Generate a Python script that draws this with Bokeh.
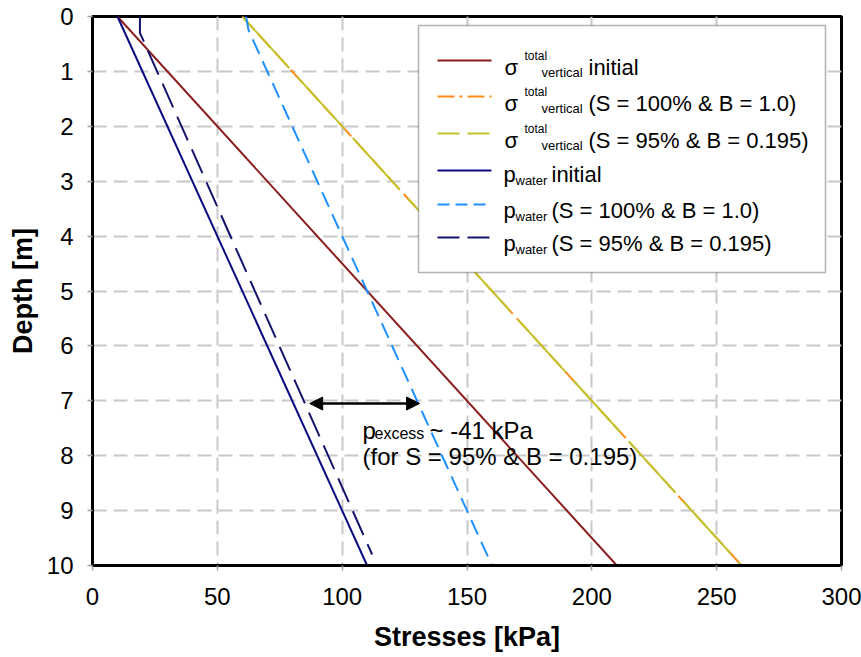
from bokeh.plotting import figure
from bokeh.models import Range1d, FixedTicker, Label, BoxAnnotation, Arrow, NormalHead
from bokeh.embed import file_html
from bokeh.resources import INLINE

# ---------------- data ----------------
depth_lin = [0, 10]
sigma_initial = [10, 210]
sigma_s100 = [60, 260]
sigma_s95 = [60, 260]
pw_initial = [10, 110]
pw_s100_depth = [0, 0.25, 10]
pw_s100 = [61.5, 62.5, 160]
pw_s95_depth = [0, 0.3, 0.45, 9.8]
pw_s95 = [19, 19, 20.5, 112]
arrow_depth = 7.05
arrow_x = [87, 131]
x_ticks = [0, 50, 100, 150, 200, 250, 300]
y_ticks = [0, 1, 2, 3, 4, 5, 6, 7, 8, 9, 10]

FONT = "Liberation Sans"
C_RED = "#8B1C1C"
C_ORANGE = "#FF8C1A"
C_YEL = "#C2C22A"
C_NAVY = "#0A0A80"
C_NAVY2 = "#14146E"
C_BLUE = "#1E90FF"

# frame in pixels
FL, FR, FT, FB = 92, 841, 16, 565

p = figure(width=861, height=657, x_range=Range1d(0, 300), y_range=Range1d(10, 0),
           output_backend="svg", toolbar_location=None,
           min_border_left=FL, min_border_right=861 - FR,
           min_border_top=FT, min_border_bottom=657 - FB)
p.background_fill_color = "white"
p.border_fill_color = "white"
p.outline_line_color = "black"
p.outline_line_width = 3

def dx(px):
    return (px - FL) * 300.0 / (FR - FL)

def dy(py):
    return (py - FT) * 10.0 / (FB - FT)

# axes
p.xaxis.ticker = FixedTicker(ticks=x_ticks)
p.yaxis.ticker = FixedTicker(ticks=y_ticks)
for ax in (p.xaxis, p.yaxis):
    ax.axis_line_color = "black"
    ax.axis_line_width = 3
    ax.major_tick_out = 5
    ax.major_tick_in = 0
    ax.minor_tick_out = 0
    ax.minor_tick_in = 0
    ax.major_tick_line_color = "#a0a0a0"
    ax.major_tick_line_width = 1.5
    ax.major_label_text_font = FONT
    ax.major_label_text_font_size = "24px"
    ax.major_label_text_color = "black"
    ax.axis_label_text_font = FONT
    ax.axis_label_text_font_size = "27px"
    ax.axis_label_text_font_style = "bold"
    ax.axis_label_text_color = "black"
p.xaxis.axis_label = "Stresses [kPa]"
p.yaxis.axis_label = "Depth [m]"
p.xaxis.major_label_standoff = 17
p.yaxis.major_label_standoff = 14
p.xaxis.axis_label_standoff = 14
p.yaxis.axis_label_standoff = 6

# grid
for g in (p.xgrid, p.ygrid):
    g.grid_line_color = "#c8c8c8"
    g.grid_line_width = 2
    g.grid_line_dash = "14 7"
p.xgrid.ticker = FixedTicker(ticks=x_ticks)
p.ygrid.ticker = FixedTicker(ticks=y_ticks)

# data lines
p.line(sigma_initial, depth_lin, line_color=C_RED, line_width=2)
p.line(sigma_s100, depth_lin, line_color=C_ORANGE, line_width=2, line_dash="18 6")
p.line(sigma_s95, depth_lin, line_color=C_YEL, line_width=2, line_dash="70 12")
p.line(pw_initial, depth_lin, line_color=C_NAVY, line_width=2)
p.line(pw_s100, pw_s100_depth, line_color=C_BLUE, line_width=2, line_dash="16 8")
p.line(pw_s95, pw_s95_depth, line_color=C_NAVY2, line_width=2, line_dash="26 10")

# arrow annotation
p.add_layout(Arrow(x_start=arrow_x[0], y_start=arrow_depth, x_end=arrow_x[1], y_end=arrow_depth,
                   line_color="black", line_width=2.5,
                   start=NormalHead(size=13, fill_color="black", line_color="black"),
                   end=NormalHead(size=13, fill_color="black", line_color="black")))

def lab(px, py, text, size, baseline="alphabetic", level="overlay"):
    p.add_layout(Label(x=dx(px), y=dy(py), text=text, text_font=FONT,
                       text_font_size=f"{size}px", text_color="black",
                       text_baseline=baseline, text_align="left", level=level))

lab(362, 430, "p", 24)
lab(374, 433, "excess", 16)
lab(429, 430, "~ -41 kPa", 24)
lab(362, 456, "(for S = 95% & B = 0.195)", 24)

# legend
p.add_layout(BoxAnnotation(left=dx(418), right=dx(825), top=dy(25), bottom=dy(272),
                           fill_color="white", fill_alpha=1.0, line_color="black",
                           line_width=1.5, level="annotation"))

leg_styles = [
    (C_RED, "solid"), (C_ORANGE, "17 5 3 5"), (C_YEL, "22 8"),
    (C_NAVY, "solid"), (C_BLUE, "12 6"), (C_NAVY2, "22 8"),
]
leg_line_y = [60, 96, 133, 170, 204, 237]
leg_base_y = [67, 103, 140, 174, 210, 243]
leg_kind = ["s", "s", "s", "p", "p", "p"]
leg_text = ["initial", "(S = 100% & B = 1.0)", "(S = 95% & B = 0.195)",
            "initial", "(S = 100% & B = 1.0)", "(S = 95% & B = 0.195)"]

for (col, dash), ly, by, kind, txt in zip(leg_styles, leg_line_y, leg_base_y, leg_kind, leg_text):
    p.line([dx(437), dx(491)], [dy(ly), dy(ly)], line_color=col, line_width=2,
           line_dash=dash, level="overlay")
    if kind == "s":
        lab(504, by, "σ", 22)
        lab(524, by - 12, "total", 12)
        lab(541, by + 5, "vertical", 13)
        lab(588, by, txt, 22)
    else:
        lab(503, by, "p", 22)
        lab(515, by + 6, "water", 13)
        lab(551, by, txt, 22)

open("out.html", "w").write(file_html(p, INLINE))
